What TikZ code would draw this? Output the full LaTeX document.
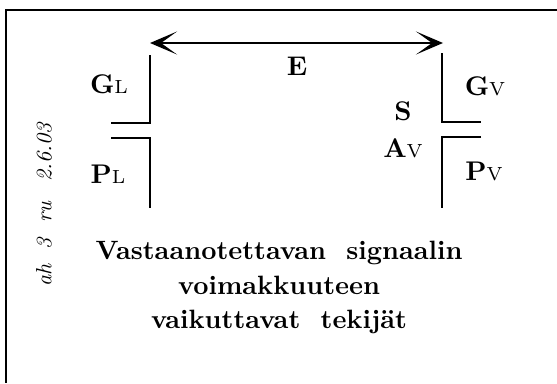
\documentclass[tikz,border=0pt]{standalone}
\usepackage{fontspec}
\setmainfont{lmroman10-regular}[Extension=.otf, BoldFont=lmroman10-bold, ItalicFont=lmroman10-italic]
\newfontfamily\subfont{lmroman7-regular}[Extension=.otf]
\usetikzlibrary{arrows.meta}

\newcommand{\sublbl}[1]{{\fontsize{19}{21}\selectfont\subfont #1}}

\begin{document}
\begin{tikzpicture}[
  x=1pt, y=-1pt,
  lbl/.style={font=\fontsize{27}{29}\selectfont\bfseries, inner sep=0pt, anchor=base},
  wall/.style={line width=1.5pt},
  frame/.style={line width=1.8pt},
  span/.style={line width=1.4pt,
    {Stealth[length=27pt,width=23pt,inset=16pt]}-{Stealth[length=27pt,width=23pt,inset=16pt]}},
]
\useasboundingbox (0,0) rectangle (557,383);

% frame (only top and left edges show)
\coordinate (fTR) at (557,10);
\coordinate (fTL) at (6,10);
\coordinate (fBL) at (6,383);
\draw[frame] (fTR) -- (fTL) -- (fBL);

% distance arrow
\coordinate (eL) at (150,43);
\coordinate (eR) at (443,43);
\draw[span] (eL) -- (eR);
\node[lbl] (e) at (297,75) {E};

% left side: transmitter
\coordinate (gLtop) at (150,55);
\coordinate (gLcor) at (150,123);
\coordinate (gLend) at (111,123);
\coordinate (pLend) at (111,138);
\coordinate (pLcor) at (150,138);
\coordinate (pLbot) at (150,208);
\draw[wall] (gLtop) -- (gLcor) -- (gLend);
\draw[wall] (pLend) -- (pLcor) -- (pLbot);
\node[lbl] (gl) at (109,93) {G\sublbl{L}};
\node[lbl] (pl) at (108,183) {P\sublbl{L}};

% right side: receiver
\coordinate (gVtop) at (442,53);
\coordinate (gVcor) at (442,122);
\coordinate (gVend) at (481,122);
\coordinate (pVend) at (481,137);
\coordinate (pVcor) at (442,137);
\coordinate (pVbot) at (442,208);
\draw[wall] (gVtop) -- (gVcor) -- (gVend);
\draw[wall] (pVend) -- (pVcor) -- (pVbot);
\node[lbl] (gv) at (485,95) {G\sublbl{V}};
\node[lbl] (s) at (403,120) {S};
\node[lbl] (av) at (403,157) {A\sublbl{V}};
\node[lbl] (pv) at (484,180) {P\sublbl{V}};

% caption
\node[font=\fontsize{26.5}{34.5}\selectfont\bfseries, align=center, inner sep=0pt, anchor=north]
  (title) at (279,241) {Vastaanotettavan\ \ signaalin\\voimakkuuteen\\vaikuttavat\ \ tekijät};

% handwritten note
\node[rotate=90, font=\fontsize{22}{24}\selectfont\itshape, inner sep=0pt]
  (note) at (44,205) {ah\hspace{0.7em}3\hspace{0.7em}ru\hspace{0.9em}2.6.03};
\end{tikzpicture}
\end{document}
